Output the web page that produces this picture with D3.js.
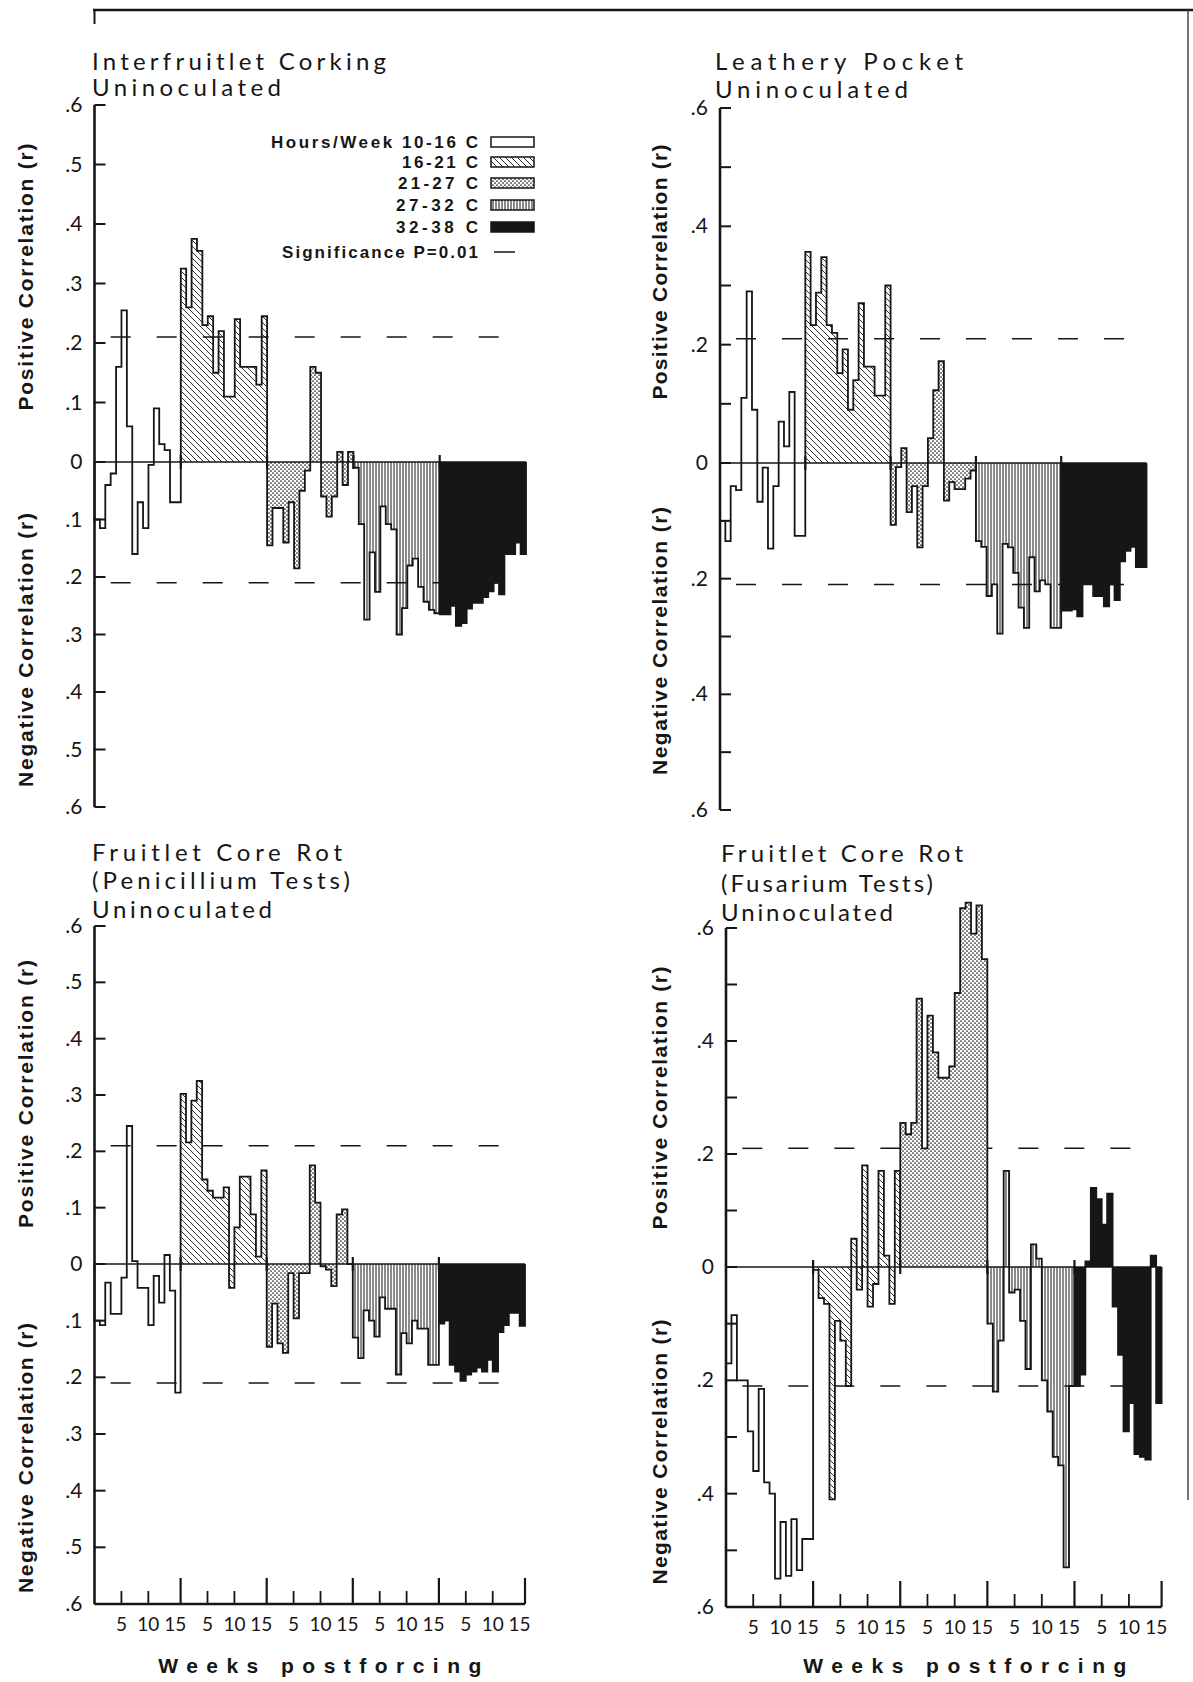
<!DOCTYPE html>
<html>
<head>
<meta charset="utf-8">
<script src="https://cdn.jsdelivr.net/npm/d3@7"></script>
<style>
  body { margin: 0; background: #fff; }
  svg { display: block; }
</style>
</head>
<body>
<div id="chart"></div>
<script>
// temperature classes (hours/week in each range)
const tempGroups = ["10-16 C", "16-21 C", "21-27 C", "27-32 C", "32-38 C"];
const weekLabels = [5, 10, 15];
const yTickValues = [0.6, 0.5, 0.4, 0.3, 0.2, 0.1, 0, -0.1, -0.2, -0.3, -0.4, -0.5, -0.6];
const signif = 0.21;

// weekly correlation r, 16 weeks per temperature class
const corking = [
  [-0.10, -0.115, -0.04, -0.02, 0.16, 0.255, 0.06, -0.16, -0.07, -0.115, -0.005, 0.09, 0.03, 0.02, -0.07, -0.07],
  [0.325, 0.26, 0.375, 0.355, 0.23, 0.245, 0.15, 0.22, 0.11, 0.11, 0.24, 0.16, 0.16, 0.16, 0.13, 0.245],
  [-0.145, -0.08, -0.08, -0.14, -0.07, -0.185, -0.05, -0.015, 0.16, 0.15, -0.06, -0.095, -0.06, 0.017, -0.04, 0.017],
  [-0.01, -0.108, -0.274, -0.157, -0.226, -0.077, -0.108, -0.117, -0.30, -0.254, -0.18, -0.168, -0.217, -0.243, -0.257, -0.263],
  [-0.265, -0.265, -0.25, -0.285, -0.28, -0.255, -0.245, -0.245, -0.235, -0.225, -0.21, -0.23, -0.16, -0.16, -0.14, -0.16]
];
const leathery = [
  [-0.10, -0.135, -0.04, -0.047, 0.11, 0.29, 0.09, -0.067, -0.008, -0.148, -0.04, 0.07, 0.028, 0.12, -0.126, -0.126],
  [0.357, 0.233, 0.288, 0.348, 0.233, 0.22, 0.152, 0.192, 0.09, 0.14, 0.27, 0.163, 0.163, 0.114, 0.114, 0.30],
  [-0.107, -0.007, 0.025, -0.085, -0.04, -0.146, -0.04, 0.042, 0.123, 0.172, -0.065, -0.033, -0.045, -0.045, -0.027, -0.013],
  [-0.135, -0.145, -0.23, -0.21, -0.295, -0.14, -0.146, -0.19, -0.25, -0.285, -0.163, -0.222, -0.203, -0.21, -0.285, -0.285],
  [-0.255, -0.255, -0.253, -0.265, -0.21, -0.21, -0.23, -0.23, -0.248, -0.21, -0.237, -0.17, -0.152, -0.145, -0.18, -0.18]
];
const penicillium = [
  [-0.10, -0.108, -0.033, -0.088, -0.088, -0.024, 0.245, 0.005, -0.042, -0.042, -0.108, -0.021, -0.068, 0.016, -0.047, -0.227],
  [0.302, 0.216, 0.29, 0.325, 0.15, 0.13, 0.118, 0.118, 0.136, -0.042, 0.065, 0.155, 0.155, 0.088, 0.013, 0.166],
  [-0.146, -0.07, -0.14, -0.157, -0.016, -0.096, -0.016, -0.016, 0.175, 0.109, -0.004, -0.01, -0.039, 0.088, 0.097, 0.0],
  [-0.13, -0.166, -0.082, -0.10, -0.128, -0.059, -0.079, -0.079, -0.195, -0.122, -0.14, -0.10, -0.114, -0.114, -0.178, -0.178],
  [-0.105, -0.10, -0.178, -0.19, -0.206, -0.195, -0.19, -0.183, -0.19, -0.169, -0.19, -0.12, -0.108, -0.086, -0.086, -0.109]
];
const fusarium = [
  [-0.17, -0.085, -0.20, -0.20, -0.29, -0.36, -0.215, -0.38, -0.40, -0.55, -0.45, -0.545, -0.445, -0.535, -0.48, -0.48],
  [-0.005, -0.055, -0.065, -0.41, -0.095, -0.13, -0.21, 0.05, -0.04, 0.18, -0.07, -0.03, 0.17, 0.02, -0.065, 0.17],
  [0.255, 0.235, 0.255, 0.475, 0.21, 0.445, 0.38, 0.335, 0.335, 0.355, 0.485, 0.635, 0.645, 0.59, 0.64, 0.545],
  [-0.10, -0.22, -0.13, 0.17, -0.045, -0.04, -0.095, -0.18, 0.04, 0.015, -0.20, -0.255, -0.335, -0.35, -0.53, -0.21],
  [-0.21, -0.19, 0.01, 0.14, 0.12, 0.075, 0.13, -0.07, -0.155, -0.29, -0.24, -0.33, -0.335, -0.34, 0.02, -0.24]
];

const WEEKS = 16;
const ink = "#161616";
const lightFont = "Lato, 'DejaVu Sans', sans-serif";
const boldFont = "'Liberation Sans', Arial, sans-serif";

const svg = d3.select("#chart").append("svg")
  .attr("width", 1193)
  .attr("height", 1682);

// fill patterns
const defs = svg.append("defs");
const hatch = defs.append("pattern").attr("id", "hatch")
  .attr("patternUnits", "userSpaceOnUse").attr("width", 6).attr("height", 6);
hatch.append("path").attr("d", "M-1,-1L7,7M-1,5L1,7M5,-1L7,1")
  .attr("stroke", ink).attr("stroke-width", 0.9);

const dots = defs.append("pattern").attr("id", "dots")
  .attr("patternUnits", "userSpaceOnUse").attr("width", 4).attr("height", 4);
dots.append("rect").attr("width", 4).attr("height", 4).attr("fill", "#fff");
dots.append("circle").attr("cx", 1).attr("cy", 1).attr("r", 0.85).attr("fill", ink);
dots.append("circle").attr("cx", 3).attr("cy", 3).attr("r", 0.85).attr("fill", ink);

const vlines = defs.append("pattern").attr("id", "vlines")
  .attr("patternUnits", "userSpaceOnUse").attr("width", 3).attr("height", 6);
vlines.append("line").attr("x1", 1).attr("x2", 1).attr("y1", 0).attr("y2", 6)
  .attr("stroke", ink).attr("stroke-width", 1);

const fills = ["none", "url(#hatch)", "url(#dots)", "url(#vlines)", ink];

const panels = [
  { data: corking, x0: 94.5, x1: 526, y: [807, 462, 105], every: 1, xAxis: false,
    title: ["Interfruitlet Corking", "Uninoculated"], tx: 92, ty: [70, 96], tw: [294, 189],
    lx: 25, pos: [277, 267, "Positive Correlation (r)"], neg: [650, 274] },
  { data: leathery, x0: 720, x1: 1146.5, y: [810, 463, 108], every: 2, xAxis: false,
    title: ["Leathery Pocket", "Uninoculated"], tx: 715, ty: [70, 98], tw: [248, 193],
    lx: 659, pos: [272, 255, "Positive Correlation (r)"], neg: [641, 268] },
  { data: penicillium, x0: 94.5, x1: 525, y: [1604, 1264, 926], every: 1, xAxis: true,
    title: ["Fruitlet Core Rot", "(Penicillium Tests)", "Uninoculated"], tx: 92, ty: [861, 889, 918], tw: [250, 258, 180],
    lx: 25, pos: [1094, 268, "Positive Correlation (r)"], neg: [1458, 270] },
  { data: fusarium, x0: 726, x1: 1161.6, y: [1607, 1267, 928], every: 2, xAxis: true,
    title: ["Fruitlet Core Rot", "(Fusarium Tests)", "Uninoculated"], tx: 721, ty: [862, 892, 921], tw: [242, 212, 172],
    lx: 659, pos: [1098, 263, "Positive   Correlation (r)"], neg: [1452, 265] }
];

const fmt = v => v === 0 ? "0" : "." + Math.round(Math.abs(v) * 10);

panels.forEach(p => {
  const g = svg.append("g");
  const x = d3.scaleLinear().domain([0, WEEKS * tempGroups.length]).range([p.x0, p.x1]);
  const y = d3.scaleLinear().domain([-0.6, 0, 0.6]).range(p.y);

  // significance lines
  [signif, -signif].forEach(s => {
    g.append("line")
      .attr("x1", x(3)).attr("x2", x(77.6))
      .attr("y1", y(s)).attr("y2", y(s))
      .attr("stroke", ink).attr("stroke-width", 1.5)
      .attr("stroke-dasharray", "20,26");
  });

  const area = d3.area()
    .x(d => x(d.w)).y0(y(0)).y1(d => y(d.v))
    .curve(d3.curveStepAfter);
  const line = d3.line()
    .x(d => x(d.w)).y(d => y(d.v))
    .curve(d3.curveStepAfter);

  p.data.forEach((vals, i) => {
    const s = i * WEEKS;
    const pts = vals.map((v, k) => ({ w: s + k, v }));
    pts.push({ w: s + WEEKS, v: vals[vals.length - 1] });
    g.append("path").attr("d", area(pts))
      .attr("fill", fills[i]).attr("stroke", "none");
    const outline = [{ w: s, v: 0 }].concat(pts, [{ w: s + WEEKS, v: 0 }]);
    g.append("path").attr("d", line(outline))
      .attr("fill", "none").attr("stroke", ink)
      .attr("stroke-width", 1.8).attr("stroke-linejoin", "miter");
  });

  // zero line and class boundary marks
  g.append("line")
    .attr("x1", p.x0).attr("x2", p.x1)
    .attr("y1", y(0)).attr("y2", y(0))
    .attr("stroke", ink).attr("stroke-width", 1.3);
  d3.range(1, tempGroups.length).forEach(k => {
    g.append("line")
      .attr("x1", x(k * WEEKS)).attr("x2", x(k * WEEKS))
      .attr("y1", y(0) - 7).attr("y2", y(0) + 7)
      .attr("stroke", ink).attr("stroke-width", 2.2);
  });

  // y axis
  g.append("line")
    .attr("x1", p.x0).attr("x2", p.x0)
    .attr("y1", y(0.6)).attr("y2", y(-0.6))
    .attr("stroke", ink).attr("stroke-width", 2.6);
  yTickValues.forEach(t => {
    g.append("line")
      .attr("x1", p.x0).attr("x2", p.x0 + 11)
      .attr("y1", y(t)).attr("y2", y(t))
      .attr("stroke", ink).attr("stroke-width", 2);
    if (Math.round(Math.abs(t) * 10) % p.every === 0) {
      g.append("text")
        .attr("x", p.x0 - 12).attr("y", y(t) + 7)
        .attr("text-anchor", "end")
        .attr("font-family", lightFont).attr("font-weight", 400)
        .attr("font-size", 21).attr("fill", ink)
        .text(fmt(t));
    }
  });

  // x axis (bottom panels only)
  if (p.xAxis) {
    const yb = y(-0.6);
    g.append("line")
      .attr("x1", p.x0).attr("x2", p.x1)
      .attr("y1", yb).attr("y2", yb)
      .attr("stroke", ink).attr("stroke-width", 2.6);
    tempGroups.forEach((c, i) => {
      const s = i * WEEKS;
      g.append("line")
        .attr("x1", x(s + WEEKS)).attr("x2", x(s + WEEKS))
        .attr("y1", yb).attr("y2", yb - 26)
        .attr("stroke", ink).attr("stroke-width", 2.2);
      weekLabels.forEach(wk => {
        if (wk < 15) {
          g.append("line")
            .attr("x1", x(s + wk)).attr("x2", x(s + wk))
            .attr("y1", yb).attr("y2", yb - 13)
            .attr("stroke", ink).attr("stroke-width", 1.8);
        }
        g.append("text")
          .attr("x", x(s + wk)).attr("y", yb + 27)
          .attr("text-anchor", "middle")
          .attr("font-family", lightFont).attr("font-weight", 400)
          .attr("font-size", 19).attr("fill", ink)
          .text(wk);
      });
    });
    g.append("text")
      .attr("x", (p.x0 + p.x1) / 2 + (p.x0 < 400 ? 10 : 21))
      .attr("y", 1673)
      .attr("text-anchor", "middle")
      .attr("font-family", boldFont).attr("font-weight", 700)
      .attr("font-size", 21).attr("fill", ink)
      .attr("textLength", 323).attr("lengthAdjust", "spacing")
      .text("Weeks postforcing");
  }

  // titles
  p.title.forEach((t, i) => {
    g.append("text")
      .attr("x", p.tx).attr("y", p.ty[i])
      .attr("font-family", lightFont).attr("font-weight", 400)
      .attr("font-size", 24).attr("fill", ink)
      .attr("textLength", p.tw[i]).attr("lengthAdjust", "spacing")
      .text(t);
  });

  // axis titles
  [[p.pos[0], p.pos[1], p.pos[2]], [p.neg[0], p.neg[1], "Negative Correlation (r)"]].forEach(a => {
    g.append("text")
      .attr("transform", `translate(${p.lx + 8},${a[0]}) rotate(-90)`)
      .attr("text-anchor", "middle")
      .attr("font-family", boldFont).attr("font-weight", 700)
      .attr("font-size", 21).attr("fill", ink)
      .attr("textLength", a[1]).attr("lengthAdjust", "spacing")
      .text(a[2]);
  });
});

// legend (first panel)
const legendRows = [142, 162, 183, 205, 227];
const legendText = ["Hours/Week 10-16 C", "16-21 C", "21-27 C", "27-32 C", "32-38 C"];
const legendLen = [207, 76, 80, 82, 82];
const leg = svg.append("g");
tempGroups.forEach((c, i) => {
  leg.append("rect")
    .attr("x", 491).attr("y", legendRows[i] - 5)
    .attr("width", 43).attr("height", 10)
    .attr("fill", fills[i] === "none" ? "#fff" : fills[i])
    .attr("stroke", ink).attr("stroke-width", 1.5);
  leg.append("text")
    .attr("x", 478).attr("y", legendRows[i] + 6)
    .attr("text-anchor", "end")
    .attr("font-family", boldFont).attr("font-weight", 700)
    .attr("font-size", 17).attr("fill", ink)
    .attr("textLength", legendLen[i]).attr("lengthAdjust", "spacing")
    .text(legendText[i]);
});
leg.append("text")
  .attr("x", 478).attr("y", 258)
  .attr("text-anchor", "end")
  .attr("font-family", boldFont).attr("font-weight", 700)
  .attr("font-size", 17).attr("fill", ink)
  .attr("textLength", 196).attr("lengthAdjust", "spacing")
  .text("Significance P=0.01");
leg.append("line")
  .attr("x1", 494).attr("x2", 515).attr("y1", 252).attr("y2", 252)
  .attr("stroke", ink).attr("stroke-width", 1.5);

// page frame remnants
svg.append("line").attr("x1", 93).attr("x2", 1193).attr("y1", 10).attr("y2", 10)
  .attr("stroke", ink).attr("stroke-width", 2.5);
svg.append("line").attr("x1", 94.5).attr("x2", 94.5).attr("y1", 9).attr("y2", 24)
  .attr("stroke", ink).attr("stroke-width", 2);
svg.append("line").attr("x1", 1188).attr("x2", 1188).attr("y1", 10).attr("y2", 1500)
  .attr("stroke", "#444").attr("stroke-width", 1.5);
</script>
</body>
</html>
